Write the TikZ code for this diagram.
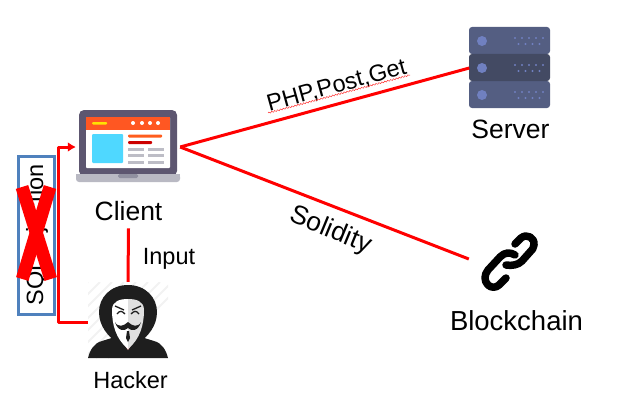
\documentclass[tikz,border=0pt]{standalone}
\usepackage{fontspec}
\setmainfont{Liberation Sans}
\usetikzlibrary{arrows.meta,decorations.pathmorphing}
\definecolor{laptopbody}{HTML}{5D5670}
\definecolor{laptopbase}{HTML}{B9B9C3}
\definecolor{laptopnotch}{HTML}{9090A0}
\definecolor{webbar}{HTML}{FF5722}
\definecolor{webblue}{HTML}{4FD8FF}
\definecolor{webgrey}{HTML}{BDBDC6}
\definecolor{rackpale}{HTML}{545E82}
\definecolor{rackdark}{HTML}{434A63}
\definecolor{rackdot}{HTML}{7080C0}
\definecolor{boxblue}{HTML}{4F81BD}
\definecolor{hood}{HTML}{1E1E1E}
\tikzset{
    wire/.style={red,line width=3pt},
    iconbox/.style={minimum width=#1,inner sep=0pt},
    name24/.style={font=\fontsize{23.5}{28}\selectfont,anchor=base,inner sep=0pt,inner ysep=8pt},
    name26/.style={font=\fontsize{26.5}{30}\selectfont,anchor=base,inner sep=0pt,inner ysep=8pt},
}
\begin{document}
\begin{tikzpicture}[x=1pt,y=-1pt]
    \useasboundingbox (0,0) rectangle (637,404);

    % icon places
    \node[iconbox=104pt,minimum height=72pt] (client) at (128,147) {};
    \node[iconbox=81pt,minimum height=81pt] (server) at (510,68) {};
    \node[iconbox=82pt,minimum height=60pt] (blockchain) at (510,259) {};
    \node[iconbox=80pt,minimum height=80pt] (hacker) at (128,322) {};

    % laptop
    \fill[laptopbody,rounded corners=5pt] (79,110) rectangle (177,176);
    \fill[white,rounded corners=1pt] (86,117) rectangle (170,168);
    \fill[webbar] (86,117) rectangle (170,129.5);
    \fill[yellow!85!orange,rounded corners=1pt] (92,122) rectangle (107,124.5);
    \foreach \x in {133,142,150,158} {
        \fill[white] (\x,123) circle (2pt);
    }
    \fill[webblue,rounded corners=1pt] (92,134) rectangle (123,163);
    \fill[webbar!85!orange,rounded corners=1pt] (128,134.5) rectangle (162,137.5);
    \fill[red!80!black,rounded corners=1pt] (128,141) rectangle (152,144);
    \foreach \y in {147.5,154,160.5} {
        \fill[webgrey] (128,\y) rectangle (144,\y+3);
        \fill[webgrey] (148,\y) rectangle (164,\y+3);
    }
    \fill[laptopbase,rounded corners=3pt] (76,174) rectangle (180,182);
    \fill[laptopbase] (76,174) rectangle (180,177);
    \fill[laptopnotch,rounded corners=1.5pt] (118,174) rectangle (138,178);

    % server
    \foreach \y/\c in {27/rackpale,81/rackpale,54/rackdark} {
        \fill[\c,rounded corners=3pt] (469,\y) rectangle (550,\y+27);
        \fill[rackdot] (482,\y+14) circle (5pt);
        \foreach \x in {515,522,529,536} {
            \fill[rackdot] (\x,\y+11) circle (1.2pt);
            \fill[rackdot] (\x+3.5,\y+17) circle (1.2pt);
        }
        \fill[rackdot] (543,\y+11) circle (1.2pt);
    }

    % chain
    \draw[black,line width=7.5pt,line cap=round,line join=round]
        (515,244) -- (521,238) .. controls (527,233) and (535,238) .. (534,245)
        .. controls (534,248) and (532,250) .. (530,252) -- (522,261)
        .. controls (518,265) and (512,266) .. (506,265);
    \draw[black,line width=7.5pt,line cap=round,line join=round]
        (515,255) .. controls (510,252) and (505,252) .. (500,257) -- (488,270)
        .. controls (484,275) and (484,281) .. (488,285)
        .. controls (491,288) and (496,288) .. (499,285) -- (506,278);

    % hacker
    \begin{scope}
        \clip (88,282) rectangle (168,358);
        \foreach \x in {88,100,...,184} {
            \draw[black!5,line width=2pt] (\x-76,358) -- (\x,282);
        }
    \end{scope}
    \fill[hood] (88,358) .. controls (90,350) and (94,343) .. (102,341)
        -- (115,337) -- (141,337) -- (154,341)
        .. controls (162,343) and (166,350) .. (168,358) -- cycle;
    \fill[hood] (128,285) .. controls (146,285) and (157,298) .. (157,312)
        .. controls (157,326) and (148,336) .. (140,342) -- (116,342)
        .. controls (108,336) and (99,326) .. (99,312)
        .. controls (99,298) and (110,285) .. (128,285) -- cycle;
    \fill[red!30] (118,335) -- (128,350) -- (138,335) -- cycle;
    \fill[white] (128,299) .. controls (120,299) and (112,301) .. (112,310)
        .. controls (112,325) and (116,339) .. (128,349) -- cycle;
    \fill[black!12] (128,299) .. controls (136,299) and (144,301) .. (144,310)
        .. controls (144,325) and (140,339) .. (128,349) -- cycle;
    % mask lines
    \draw[hood,line width=1.3pt] (115,306) -- (124,310);
    \draw[hood,line width=1.3pt] (141,306) -- (132,310);
    \draw[hood,line width=1.3pt] (117,314) .. controls (120,310) and (122,311) .. (125,314);
    \draw[hood,line width=1.3pt] (139,314) .. controls (136,310) and (134,311) .. (131,314);
    \fill[hood] (115,322) .. controls (118,328) and (124,326) .. (128,322)
        .. controls (132,326) and (138,328) .. (141,322)
        .. controls (138,332) and (131,331) .. (128,328)
        .. controls (125,331) and (118,332) .. (115,322) -- cycle;
    \fill[hood] (127,331) -- (129,331) -- (130,338) -- (128,342) -- (126,338) -- cycle;

    % labels
    \node[name26] (clientname) at (128.5,220) {Client};
    \node[name26] (servername) at (510.5,138) {Server};
    \node[font=\fontsize{27.5}{30}\selectfont,anchor=base] (blockname) at (516.5,330) {Blockchain};
    \node[name24] (hackername) at (130.5,388) {Hacker};
    \node[name24] (inputname) at (169,264) {Input};
    \node[name24,rotate=15.5] (phpname) at (338.5,92.5) {PHP,Post,Get};
    \node[name26,rotate=-22.5] (solname) at (328,237) {Solidity};

    % connectors
    \draw[wire] (client.east) -- (server.west);
    \draw[wire] (client.east) -- (blockchain.west);
    \draw[wire] (clientname.south) -- (hacker.north);
    \draw[wire,line join=round,-{Latex[length=8pt,width=10pt]}] (hacker.west) -- ++(-29,0) |- (client.west);

    \draw[red!80,line width=.5pt,decorate,decoration={snake,amplitude=.7pt,segment length=3pt}]
        (268,113) -- (410,75);

    % crossed out box
    \node[draw=boxblue,line width=3pt,rotate=90,minimum width=158pt,minimum height=36pt,inner sep=0pt,
        text depth=3pt,font=\fontsize{23.5}{28}\selectfont] (sqlbox) at (36,235) {SQL Injection};
    \draw[red,line width=13pt] (22,187) -- (50.7,279);
    \draw[red,line width=13pt] (50,187) -- (22.3,279);
\end{tikzpicture}
\end{document}
